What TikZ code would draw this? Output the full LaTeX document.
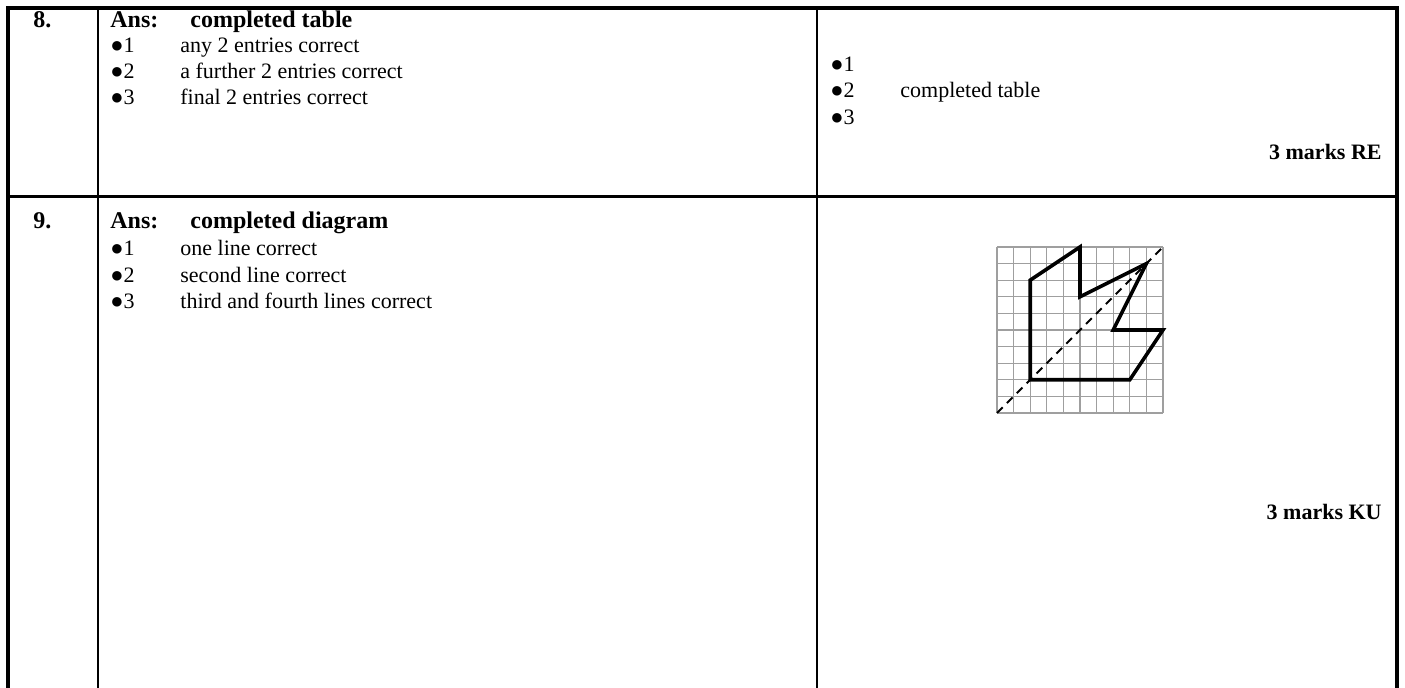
\documentclass[tikz,border=0pt]{standalone}
\usepackage{fontspec}
\setmainfont{Liberation Serif}
\usetikzlibrary{positioning}

\tikzset{
    txt/.style={anchor=base west, inner sep=0pt, font=\fontsize{11}{13}\selectfont},
    bold/.style={txt, font=\fontsize{12}{14}\selectfont\bfseries},
    marks/.style={txt, font=\fontsize{11}{13}\selectfont\bfseries, anchor=base east},
    outer/.style={line width=1.75pt},
    inner/.style={line width=1.1pt},
    gridline/.style={gray!75, line width=0.6pt},
    figline/.style={line width=1.8pt, line join=miter},
    mirror/.style={line width=1pt, dash pattern=on 4pt off 3pt}
}

\begin{document}
\begin{tikzpicture}[x=0.5pt, y=-0.5pt]
        \useasboundingbox (0,0) rectangle (1405,688);

        % table frame
        \coordinate (tl) at (8,8);
        \coordinate (tr) at (1397,8);
        \coordinate (bl) at (8,688);
        \coordinate (br) at (1397,688);
        \draw[outer] (bl) -- (tl) -- (tr) -- (br);
        \draw[inner] (98,8) -- (98,688);
        \draw[inner] (817,8) -- (817,688);
        \draw[line width=1.5pt] (8,197) -- (1397,197);

        % Question 8
        \node[bold] (q8) at (33,28) {8.};
        \node[bold] (ans8) at (110,28) {Ans:};
        \node[bold] (res8) at (190,28) {completed table};
        \node[txt] (a1) at (110,53) {●1};
        \node[txt] (a1t) at (180,53) {any 2 entries correct};
        \node[txt] (a2) at (110,79) {●2};
        \node[txt] (a2t) at (180,79) {a further 2 entries correct};
        \node[txt] (a3) at (110,105) {●3};
        \node[txt] (a3t) at (180,105) {final 2 entries correct};

        \node[txt] (b1) at (830,72) {●1};
        \node[txt] (b2) at (830,98) {●2};
        \node[txt] (b2t) at (900,98) {completed table};
        \node[txt] (b3) at (830,125) {●3};
        \node[marks] (re) at (1382,160) {3 marks RE};

        % Question 9
        \node[bold] (q9) at (33,229) {9.};
        \node[bold] (ans9) at (110,229) {Ans:};
        \node[bold] (res9) at (190,229) {completed diagram};
        \node[txt] (c1) at (110,256) {●1};
        \node[txt] (c1t) at (180,256) {one line correct};
        \node[txt] (c2) at (110,283) {●2};
        \node[txt] (c2t) at (180,283) {second line correct};
        \node[txt] (c3) at (110,309) {●3};
        \node[txt] (c3t) at (180,309) {third and fourth lines correct};

        \node[marks] (ku) at (1382,520) {3 marks KU};

        % completed diagram on the grid
        \begin{scope}[xshift=498.5pt, yshift=-206.5pt, x=8.3pt, y=8.3pt]
            \foreach \i in {0,...,10} {
                \draw[gridline] (\i,0) -- (\i,10);
                \draw[gridline] (0,\i) -- (10,\i);
            }
            \draw[mirror] (0,0) -- (10,10);
            \draw[figline] (2,8) -- (5,10) -- (5,7) -- (9,9) -- (7,5) -- (10,5)
                -- (8,2) -- (2,2) -- cycle;
        \end{scope}
    \end{tikzpicture}
\end{document}
